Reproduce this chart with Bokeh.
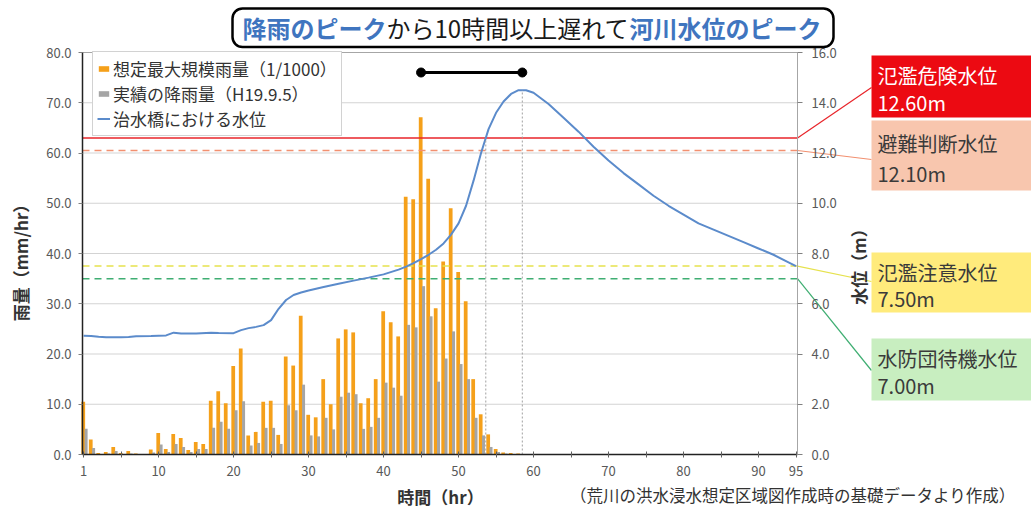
import math
from bokeh.plotting import figure
from bokeh.models import (Range1d, LinearAxis, FixedTicker, NumeralTickFormatter, Label,
                          BoxAnnotation, Legend, LegendItem, ColumnDataSource)
from bokeh.embed import file_html
from bokeh.resources import INLINE

FONT = "Noto Sans CJK JP"

# ---------------- data ----------------
hours = list(range(0, 59))
rain_max = [10.5, 3.0, 0.3, 0.5, 1.5, 0.3, 0.7, 0.2, 0.1, 1.0,
            4.3, 1.1, 4.1, 3.3, 0.9, 2.5, 2.1, 10.7, 12.6, 10.2,
            17.6, 21.1, 3.8, 4.5, 10.5, 10.7, 3.9, 19.5, 17.7, 27.6,
            7.9, 7.4, 15.0, 10.0, 23.1, 24.9, 24.3, 10.2, 11.2, 15.0,
            28.5, 26.3, 23.5, 51.3, 50.8, 67.1, 54.9, 29.1, 38.4, 49.0,
            36.3, 30.5, 15.0, 8.0, 4.0, 1.1, 0.4, 0.3, 0.2]
rain_obs = [5.1, 1.3, 0.1, 0.2, 0.7, 0.1, 0.2, 0.1, 0.0, 0.4,
            2.0, 0.5, 2.1, 1.5, 0.5, 1.1, 1.1, 5.3, 6.5, 5.1,
            8.8, 10.6, 1.8, 2.3, 5.3, 5.3, 2.1, 9.8, 8.8, 13.9,
            3.8, 3.6, 7.3, 5.0, 11.5, 12.3, 12.0, 5.1, 5.5, 7.3,
            14.3, 13.3, 11.7, 25.8, 25.3, 33.5, 27.5, 14.5, 19.1, 24.5,
            18.0, 15.0, 7.3, 3.8, 1.5, 0.5, 0.2, 0.1, 0.1]

wl_hours = [0, 1, 2, 3, 5, 6, 7, 9, 11, 12, 13, 15, 17, 18, 20, 21, 22, 23, 24, 25,
            26, 27, 28, 29, 30, 32, 34, 36, 38, 40, 42, 43, 44, 45, 46, 47, 48, 49, 50, 51,
            52, 53, 54, 55, 56, 57, 58, 59, 60, 62, 64, 66, 68, 70, 72, 74, 76, 78, 80, 82,
            84, 86, 88, 90, 92, 94, 95]
wl_level = [4.73, 4.72, 4.69, 4.67, 4.67, 4.68, 4.71, 4.72, 4.74, 4.85, 4.82, 4.82, 4.85, 4.84, 4.83, 4.95, 5.03, 5.08, 5.15, 5.35,
            5.8, 6.15, 6.35, 6.45, 6.53, 6.67, 6.8, 6.92, 7.04, 7.17, 7.36, 7.48, 7.62, 7.78, 7.95, 8.15, 8.4, 8.75, 9.2, 9.9,
            10.9, 12.0, 12.95, 13.6, 14.05, 14.35, 14.5, 14.5, 14.4, 13.95, 13.4, 12.85, 12.25, 11.7, 11.2, 10.75, 10.3, 9.9, 9.55, 9.2,
            8.95, 8.7, 8.45, 8.2, 7.95, 7.65, 7.5]

x_ticks = [0, 5, 10, 15, 20, 25, 30, 35, 40, 45, 50, 55, 60, 65, 70, 75, 80, 85, 90, 95]
x_tick_labels = ["1", "", "10", "", "20", "", "30", "", "40", "", "50", "", "60", "", "70", "", "80", "", "90", "95"]
rain_ticks = [0, 10, 20, 30, 40, 50, 60, 70, 80]
wl_ticks = [0, 2, 4, 6, 8, 10, 12, 14, 16]

levels = [12.60, 12.10, 7.50, 7.00]
level_names = ["氾濫危険水位", "避難判断水位", "氾濫注意水位", "水防団待機水位"]
level_line_colors = ["#E8242A", "#F29070", "#E6E24E", "#3FAE72"]
level_dash = ["solid", "7 5", "7 5", "7 5"]
level_box_colors = ["#EC0A12", "#F8C6AE", "#FFEB7C", "#C8EEC0"]
level_text_colors = ["#FFFFFF", "#3A3A3A", "#3A3A3A", "#3A3A3A"]

legend_labels = ["想定最大規模雨量（1/1000）", "実績の降雨量（H19.9.5）", "治水橋における水位"]

ORANGE = "#F5A01A"
GREY = "#A5A5A5"
BLUE = "#5B8BCB"
TITLE_BLUE = "#3F75BF"

# ------------- geometry (reference pixel -> data) -------------
W, H = 1031, 509
FL, FR, FT, FB = 82.0, 797.0, 52.0, 454.0
X0, X1 = -0.15, 95.2
RAIN_MAX, WL_MAX = 80.0, 16.0


def hx(rx):
    return X0 + (rx - FL) / (FR - FL) * (X1 - X0)


def ly(ry):
    return (FB - ry) / (FB - FT) * RAIN_MAX


def wy(ry):
    return (FB - ry) / (FB - FT) * WL_MAX


# the frame covers the whole canvas; axes are pinned with fixed_location
p = figure(width=W, height=H, x_range=Range1d(hx(0), hx(W)), y_range=Range1d(ly(H), ly(0)),
           output_backend="svg", toolbar_location=None,
           min_border_left=0, min_border_right=0, min_border_top=0, min_border_bottom=0,
           background_fill_color="white", border_fill_color="white")
p.extra_y_ranges = {"wl": Range1d(wy(H), wy(0))}
p.outline_line_color = None
p.xgrid.visible = False
p.ygrid.visible = False

# gridlines and plot-area border
p.segment(x0=[X0] * (len(rain_ticks) - 1), x1=[X1] * (len(rain_ticks) - 1),
          y0=rain_ticks[1:], y1=rain_ticks[1:], line_color="#D3D3D3", line_width=1)
p.segment(x0=[X0], x1=[X1], y0=[RAIN_MAX], y1=[RAIN_MAX], line_color="#A6A6A6", line_width=1)

# x axis
xa = p.xaxis[0]
xa.fixed_location = 0
xa.bounds = (X0, X1)
xa.ticker = FixedTicker(ticks=x_ticks)
xa.major_label_overrides = {t: l for t, l in zip(x_ticks, x_tick_labels)}
xa.minor_tick_line_color = None
xa.major_tick_in = 3
xa.major_tick_out = 3
xa.major_tick_line_color = "#606060"
xa.axis_line_color = "#222222"
xa.axis_line_width = 1.5
xa.major_label_standoff = 8
xa.major_label_text_font = FONT
xa.major_label_text_font_size = "13px"
xa.major_label_text_color = "#595959"

# left axis
ya = p.yaxis[0]
ya.fixed_location = X0
ya.bounds = (0, RAIN_MAX)
ya.ticker = FixedTicker(ticks=rain_ticks)
ya.formatter = NumeralTickFormatter(format="0.0")
ya.minor_tick_line_color = None
ya.major_tick_in = 0
ya.major_tick_out = 4
ya.major_tick_line_color = "#808080"
ya.axis_line_color = "#222222"
ya.axis_line_width = 1.5
ya.major_label_standoff = 7
ya.major_label_text_font = FONT
ya.major_label_text_font_size = "13px"
ya.major_label_text_color = "#595959"

# right axis
ra = LinearAxis(y_range_name="wl", ticker=FixedTicker(ticks=wl_ticks),
                formatter=NumeralTickFormatter(format="0.0"), fixed_location=X1,
                bounds=(0, WL_MAX))
ra.minor_tick_line_color = None
ra.major_tick_in = 0
ra.major_tick_out = 5
ra.major_tick_line_color = "#808080"
ra.axis_line_color = "#A6A6A6"
ra.major_label_standoff = 9
ra.major_label_text_font = FONT
ra.major_label_text_font_size = "13px"
ra.major_label_text_color = "#595959"
p.add_layout(ra, "right")

# bars
src = ColumnDataSource(dict(
    xo=[h - 0.05 for h in hours], xg=[h + 0.33 for h in hours],
    rmax=rain_max, robs=rain_obs))
r_or = p.vbar(x="xo", top="rmax", width=0.5, source=src, fill_color=ORANGE, line_color=None)
r_gr = p.vbar(x="xg", top="robs", width=0.4, source=src, fill_color=GREY, line_color=None)

# level lines
for lv, c, d in zip(levels, level_line_colors, level_dash):
    p.segment(x0=[X0], x1=[X1], y0=[lv], y1=[lv], y_range_name="wl",
              line_color=c, line_width=1.5, line_dash=d)

# water level line
r_wl = p.line(wl_hours, wl_level, y_range_name="wl", line_color=BLUE, line_width=2)

# dotted markers: crossing of danger level, and water peak
danger = levels[0]
cross_h = None
for i in range(1, len(wl_level)):
    if wl_level[i - 1] < danger <= wl_level[i]:
        a, b = wl_level[i - 1], wl_level[i]
        cross_h = wl_hours[i - 1] + (danger - a) / (b - a) * (wl_hours[i] - wl_hours[i - 1])
        break
peak = max(wl_level)
peak_hs = [h for h, v in zip(wl_hours, wl_level) if v == peak]
peak_h = sum(peak_hs) / len(peak_hs)
p.segment(x0=[cross_h, peak_h], y0=[0, 0], x1=[cross_h, peak_h], y1=[danger, peak],
          y_range_name="wl", line_color="#A0A0A0", line_width=1, line_dash="2 2")

# dumbbell rain peak -> water peak
rain_peak_h = hours[rain_max.index(max(rain_max))]
yb = ly(72)
p.line([rain_peak_h, peak_h], [yb, yb], line_color="black", line_width=3)
p.scatter([rain_peak_h, peak_h], [yb, yb], size=9, color="black")

# legend (location measured from the frame's bottom-left = canvas bottom-left)
leg_h = 78
legend = Legend(items=[LegendItem(label=legend_labels[0], renderers=[r_or]),
                       LegendItem(label=legend_labels[1], renderers=[r_gr]),
                       LegendItem(label=legend_labels[2], renderers=[r_wl])],
                location=(92, H - 58 - leg_h), orientation="vertical",
                glyph_width=13, glyph_height=7, label_standoff=3,
                label_height=20, spacing=-2, padding=4, margin=0,
                label_text_font=FONT, label_text_font_size="17px", label_text_color="#333333",
                border_line_color="#A6A6A6", border_line_width=1,
                background_fill_color="white", background_fill_alpha=1)
p.add_layout(legend, "center")

# level boxes + connectors
box_tb = [(55, 117), (120, 190), (252, 312), (338, 400)]
conn_end = [87, 159, 281, 370]
for lv, name, lc, bc, tc, (bt, bb), ce in zip(levels, level_names, level_line_colors,
                                              level_box_colors, level_text_colors, box_tb, conn_end):
    p.segment(x0=[X1], y0=[lv], x1=[hx(871)], y1=[wy(ce)], y_range_name="wl",
              line_color=lc, line_width=1.2)
    p.add_layout(BoxAnnotation(left=hx(871), right=hx(W + 5), top=wy(bt), bottom=wy(bb),
                               y_range_name="wl", fill_color=bc, fill_alpha=1, line_color=None))
    hh = bb - bt
    p.add_layout(Label(x=hx(877), y=wy(bt + hh * 0.33), text=name, y_range_name="wl",
                       text_font=FONT, text_font_size="20px", text_color=tc,
                       text_align="left", text_baseline="middle"))
    p.add_layout(Label(x=hx(877), y=wy(bt + hh * 0.76), text=f"{lv:.2f}m", y_range_name="wl",
                       text_font=FONT, text_font_size="20px", text_color=tc,
                       text_align="left", text_baseline="middle"))

# title callout
p.add_layout(BoxAnnotation(left=hx(232), right=hx(833), top=ly(8), bottom=ly(46.5),
                           fill_color="white", fill_alpha=1, line_color="black", line_alpha=1,
                           line_width=2.5, border_radius=10))
title_parts = [("降雨のピーク", TITLE_BLUE, "bold", 144),
               ("から10時間以上遅れて", "#1A1A1A", "normal", 243),
               ("河川水位のピーク", TITLE_BLUE, "bold", 192)]
tx = 242
for txt, col, sty, w in title_parts:
    p.add_layout(Label(x=hx(tx), y=ly(27), text=txt, text_font=FONT, text_font_size="24px",
                       text_color=col, text_font_style=sty, text_align="left", text_baseline="middle"))
    tx += w

# axis titles and source note
p.add_layout(Label(x=hx(20), y=ly(258), text="雨量（mm/hr）", angle=math.pi / 2,
                   text_font=FONT, text_font_size="17px", text_font_style="bold",
                   text_color="#333333", text_align="center", text_baseline="middle"))
p.add_layout(Label(x=hx(858), y=ly(262), text="水位（m）", angle=math.pi / 2,
                   text_font=FONT, text_font_size="17px", text_font_style="bold",
                   text_color="#333333", text_align="center", text_baseline="middle"))
p.add_layout(Label(x=hx(440), y=ly(496), text="時間（hr）",
                   text_font=FONT, text_font_size="17px", text_font_style="bold",
                   text_color="#333333", text_align="center", text_baseline="middle"))
p.add_layout(Label(x=hx(1015), y=ly(494), text="（荒川の洪水浸水想定区域図作成時の基礎データより作成）",
                   text_font=FONT, text_font_size="16.5px",
                   text_color="#333333", text_align="right", text_baseline="middle"))

open("out.html", "w").write(file_html(p, INLINE))
